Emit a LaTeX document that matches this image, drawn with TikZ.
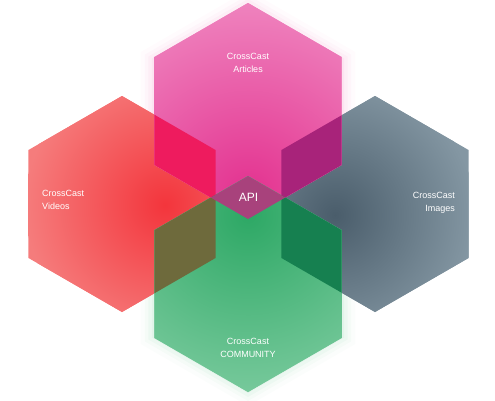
\documentclass[tikz,border=0pt]{standalone}
\usepackage{fontspec}
\setmainfont{Liberation Sans}
\newcommand\hexp[3]{({#1},{#2-#3}) -- ({#1+0.8660*#3},{#2-0.5*#3}) -- ({#1+0.8660*#3},{#2+0.5*#3}) -- ({#1},{#2+#3}) -- ({#1-0.8660*#3},{#2+0.5*#3}) -- ({#1-0.8660*#3},{#2-0.5*#3}) -- cycle}
\definecolor{pinkIn}{HTML}{E3318F}
\definecolor{pinkOut}{HTML}{F08AC2}
\definecolor{redIn}{HTML}{F3353C}
\definecolor{redOut}{HTML}{F57C7C}
\definecolor{slateIn}{HTML}{4A5D6B}
\definecolor{slateOut}{HTML}{8497A3}
\definecolor{greenIn}{HTML}{2DA865}
\definecolor{greenOut}{HTML}{80CDA2}
\definecolor{ovTL}{HTML}{EE1B5E}
\definecolor{ovTR}{HTML}{A8237A}
\definecolor{ovBL}{HTML}{6E6A3C}
\definecolor{ovBR}{HTML}{168050}
\definecolor{ovTB}{HTML}{A8427C}
\tikzset{
  lbl/.style={text=white, font=\fontsize{9}{13.5}\selectfont, inner sep=0pt},
}
\begin{document}
\begin{tikzpicture}[x=1pt,y=-1pt]
\useasboundingbox (0,0) rectangle (495,400);
% glows
\foreach \r/\o in {124/0.03,119/0.05,115/0.07,111/0.09}{
  \fill[pinkOut, opacity=\o] \hexp{248}{114}{\r};
  \fill[greenOut, opacity=\o] \hexp{248}{282}{\r};
}
% left hexagon
\begin{scope}
  \clip \hexp{122}{204}{108};
  \fill[redOut] (0,0) rectangle (495,400);
  \shade[inner color=redIn, outer color=redOut] (165,205) circle (140);
\end{scope}
% right hexagon
\begin{scope}
  \clip \hexp{375}{204}{108};
  \fill[slateOut] (0,0) rectangle (495,400);
  \shade[inner color=slateIn, outer color=slateOut] (335,215) circle (140);
\end{scope}
% top hexagon
\begin{scope}
  \clip \hexp{248}{111}{108};
  \fill[pinkOut] (0,0) rectangle (495,400);
  \shade[inner color=pinkIn, outer color=pinkOut] (248,195) circle (210);
\end{scope}
% bottom hexagon
\begin{scope}
  \clip \hexp{248}{284}{108};
  \fill[greenOut] (0,0) rectangle (495,400);
  \shade[inner color=greenIn, outer color=greenOut] (248,215) circle (200);
\end{scope}
% overlaps
\begin{scope}\clip \hexp{248}{111}{108}; \fill[ovTL] \hexp{122}{204}{108}; \fill[ovTR] \hexp{375}{204}{108}; \end{scope}
\begin{scope}\clip \hexp{248}{284}{108}; \fill[ovBL] \hexp{122}{204}{108}; \fill[ovBR] \hexp{375}{204}{108}; \end{scope}
\begin{scope}\clip \hexp{248}{111}{108}; \fill[ovTB] \hexp{248}{284}{108}; \end{scope}
% labels
\node[lbl, align=center] (articles) at (248,63) {CrossCast\\Articles};
\node[lbl, align=left, anchor=west] (videos) at (42,200) {CrossCast\\Videos};
\node[lbl, align=right, anchor=east] (images) at (455,203) {CrossCast\\Images};
\node[lbl, align=center] (community) at (248,348) {CrossCast\\COMMUNITY};
\node[lbl, font=\fontsize{12}{14}\selectfont] (api) at (248.5,197) {API};
\end{tikzpicture}
\end{document}
